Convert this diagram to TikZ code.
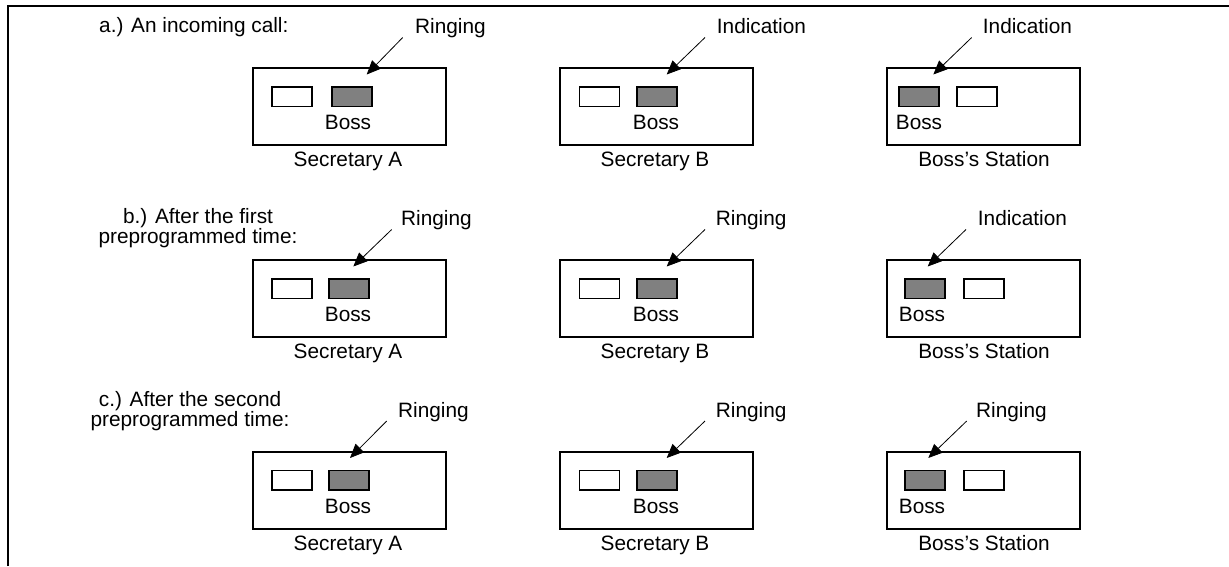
\documentclass[tikz,border=0pt]{standalone}
\usepackage{fontspec}
\setmainfont{Liberation Sans}
\usetikzlibrary{arrows.meta}
\definecolor{lampgrey}{RGB}{128,128,128}
\newcommand{\fsz}{\fontsize{20.8}{17.5}\selectfont}
\newcommand{\mytwoline}[2]{\vtop{\lineskiplimit=-50pt\baselineskip=20pt\halign{\hfil##\hfil\cr #1\cr #2\cr}}}
\begin{document}
\begin{tikzpicture}[x=1pt,y=-1pt,
  stationbox/.style={draw, line width=2pt, minimum width=193pt, minimum height=77pt, anchor=north west, inner sep=0pt},
  lampoff/.style={draw, line width=1.8pt, fill=white, minimum width=40pt, minimum height=19.5pt, anchor=north west, inner sep=0pt},
  lampon/.style={lampoff, fill=lampgrey},
  txt/.style={font=\fsz, inner sep=0pt, anchor=base},
  lbl/.style={font=\fsz, inner sep=0pt, anchor=base west},
  ptr/.style={-{Triangle[length=14pt,width=12pt]}, line width=0.8pt}]
\useasboundingbox (0,0) rectangle (1229,566);
% frame
\coordinate (fbl) at (8,566);
\coordinate (ftl) at (8,5.5);
\coordinate (ftr) at (1229,5.5);
\draw[line width=2pt] (fbl) -- (ftl) -- (ftr);

% ---------- row a ----------
\node[lbl] (la) at (99,32.5) {a.) An incoming call:};
% Secretary A
\node[stationbox] (aA) at (251.5,67) {};
\node[lampoff] (aAw) at (270.7,86) {};
\node[lampon] (aAg) at (331,86) {};
\node[txt] (aAboss) at (348,129.5) {Boss};
\node[txt] (aAname) at (348,166.5) {Secretary A};
\node[lbl] (aAlbl) at (415,33.5) {Ringing};
\coordinate (aAs) at (402.7,37.5);
\coordinate (aAt) at (366.7,74.5);
\draw[ptr] (aAs) -- (aAt);
% Secretary B
\node[stationbox] (aB) at (558.5,67) {};
\node[lampoff] (aBw) at (578.5,86) {};
\node[lampon] (aBg) at (635.7,86) {};
\node[txt] (aBboss) at (656,129.5) {Boss};
\node[txt] (aBname) at (655,166.5) {Secretary B};
\node[lbl] (aBlbl) at (716.7,33.5) {Indication};
\coordinate (aBs) at (705,37.5);
\coordinate (aBt) at (666.7,74.5);
\draw[ptr] (aBs) -- (aBt);
% Boss's station
\node[stationbox] (aC) at (885.7,67) {};
\node[lampon] (aCg) at (898.3,86) {};
\node[lampoff] (aCw) at (955.7,86) {};
\node[txt] (aCboss) at (919,129.5) {Boss};
\node[txt] (aCname) at (984,166.5) {Boss’s Station};
\node[lbl] (aClbl) at (982.7,33.5) {Indication};
\coordinate (aCs) at (971.7,37.5);
\coordinate (aCt) at (933.3,74.5);
\draw[ptr] (aCs) -- (aCt);

% ---------- row b ----------
\node[txt] (lb) at (198,223.5) {\mytwoline{b.) After the first}{preprogrammed time:}};
% Secretary A
\node[stationbox] (bA) at (251.5,259) {};
\node[lampoff] (bAw) at (270.7,278) {};
\node[lampon] (bAg) at (328.3,278) {};
\node[txt] (bAboss) at (348,321.5) {Boss};
\node[txt] (bAname) at (348,358.5) {Secretary A};
\node[lbl] (bAlbl) at (401,225.5) {Ringing};
\coordinate (bAs) at (391.7,229.5);
\coordinate (bAt) at (353.3,266.5);
\draw[ptr] (bAs) -- (bAt);
% Secretary B
\node[stationbox] (bB) at (558.5,259) {};
\node[lampoff] (bBw) at (578.5,278) {};
\node[lampon] (bBg) at (635.7,278) {};
\node[txt] (bBboss) at (656,321.5) {Boss};
\node[txt] (bBname) at (655,358.5) {Secretary B};
\node[lbl] (bBlbl) at (715.7,225.5) {Ringing};
\coordinate (bBs) at (705,229.5);
\coordinate (bBt) at (666.7,266.5);
\draw[ptr] (bBs) -- (bBt);
% Boss's station
\node[stationbox] (bC) at (885.7,259) {};
\node[lampon] (bCg) at (904.3,278) {};
\node[lampoff] (bCw) at (962.7,278) {};
\node[txt] (bCboss) at (922,321.5) {Boss};
\node[txt] (bCname) at (984,358.5) {Boss’s Station};
\node[lbl] (bClbl) at (977.7,225.5) {Indication};
\coordinate (bCs) at (966,229.5);
\coordinate (bCt) at (927.7,266.5);
\draw[ptr] (bCs) -- (bCt);

% ---------- row c ----------
\node[txt] (lc) at (190,406) {\mytwoline{c.) After the second}{preprogrammed time:}};
% Secretary A
\node[stationbox] (cA) at (251.5,450.5) {};
\node[lampoff] (cAw) at (270.7,469.5) {};
\node[lampon] (cAg) at (328.3,469.5) {};
\node[txt] (cAboss) at (348,513) {Boss};
\node[txt] (cAname) at (348,550) {Secretary A};
\node[lbl] (cAlbl) at (398,417) {Ringing};
\coordinate (cAs) at (386.7,421);
\coordinate (cAt) at (350,458);
\draw[ptr] (cAs) -- (cAt);
% Secretary B
\node[stationbox] (cB) at (558.5,450.5) {};
\node[lampoff] (cBw) at (578.5,469.5) {};
\node[lampon] (cBg) at (635.7,469.5) {};
\node[txt] (cBboss) at (656,513) {Boss};
\node[txt] (cBname) at (655,550) {Secretary B};
\node[lbl] (cBlbl) at (715.7,417) {Ringing};
\coordinate (cBs) at (705,421);
\coordinate (cBt) at (666.7,458);
\draw[ptr] (cBs) -- (cBt);
% Boss's station
\node[stationbox] (cC) at (885.7,450.5) {};
\node[lampon] (cCg) at (904.3,469.5) {};
\node[lampoff] (cCw) at (962.7,469.5) {};
\node[txt] (cCboss) at (922,513) {Boss};
\node[txt] (cCname) at (984,550) {Boss’s Station};
\node[lbl] (cClbl) at (976,417) {Ringing};
\coordinate (cCs) at (966.7,421);
\coordinate (cCt) at (928.3,458);
\draw[ptr] (cCs) -- (cCt);
\end{tikzpicture}
\end{document}
